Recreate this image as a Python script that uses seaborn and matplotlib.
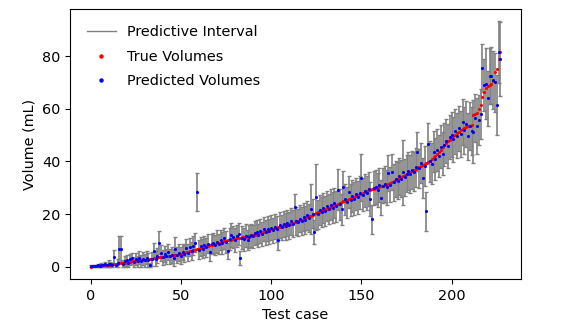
# import libraries
import numpy as np
import pandas as pd
import matplotlib
matplotlib.use("Agg")
import matplotlib.pyplot as plt
import seaborn as sns
from matplotlib.lines import Line2D

# true volumes (sorted)
true_vol = [
    0.0, 0.1, 0.1, 0.2, 0.2, 0.3, 0.4, 0.5, 0.5, 0.6,
    0.7, 0.8, 0.9, 1.0, 1.1, 1.2, 1.3, 1.4, 1.5, 1.6,
    1.7, 1.8, 1.9, 2.0, 2.1, 2.2, 2.3, 2.4, 2.5, 2.6,
    2.7, 2.8, 2.9, 3.0, 3.1, 3.3, 3.4, 3.5, 3.6, 3.7,
    3.8, 3.9, 4.0, 4.1, 4.2, 4.3, 4.4, 4.5, 4.6, 4.7,
    4.9, 5.1, 5.3, 5.5, 5.7, 5.9, 6.1, 6.3, 6.5, 6.7,
    6.9, 7.1, 7.3, 7.5, 7.7, 7.9, 8.1, 8.3, 8.5, 8.7,
    8.9, 9.1, 9.2, 9.4, 9.6, 9.8, 10.0, 10.1, 10.3, 10.5,
    10.6, 10.8, 11.0, 11.1, 11.2, 11.3, 11.4, 11.5, 11.6, 11.7,
    11.9, 12.1, 12.3, 12.5, 12.8, 13.0, 13.2, 13.5, 13.7, 14.0,
    14.2, 14.4, 14.6, 14.8, 15.0, 15.2, 15.4, 15.6, 15.8, 16.0,
    16.2, 16.4, 16.6, 16.8, 17.0, 17.3, 17.6, 17.9, 18.2, 18.5,
    18.8, 19.1, 19.4, 19.7, 20.0, 20.3, 20.6, 20.9, 21.2, 21.5,
    21.8, 22.1, 22.4, 22.7, 23.0, 23.3, 23.6, 23.9, 24.2, 24.5,
    24.8, 25.1, 25.4, 25.7, 26.0, 26.3, 26.6, 26.9, 27.2, 27.5,
    27.8, 28.1, 28.4, 28.7, 29.0, 29.3, 29.5, 29.7, 29.9, 30.1,
    30.3, 30.5, 30.7, 30.9, 31.1, 31.4, 31.7, 32.0, 32.4, 32.8,
    33.2, 33.6, 34.0, 34.4, 34.8, 35.2, 35.6, 36.0, 36.4, 36.8,
    37.2, 37.6, 38.0, 38.4, 38.8, 39.1, 39.4, 39.8, 40.3, 40.9,
    41.5, 42.2, 42.9, 43.7, 44.5, 45.3, 46.1, 46.9, 47.6, 48.3,
    49.0, 49.6, 50.2, 50.8, 51.3, 51.8, 52.3, 52.8, 53.1, 53.4,
    53.6, 53.8, 57.5, 58.0, 58.5, 60.0, 61.5, 64.5, 66.5, 68.0,
    68.8, 69.2, 69.5, 70.5, 74.0, 75.0, 79.0, 81.5,
]

# predicted volumes
pred_vol = [
    0.3, 0.2, 0.4, 0.3, 0.5, 0.4, 0.7, 0.5, 0.9, 0.6,
    1.2, 0.9, 0.8, 3.8, 0.6, 1.5, 6.8, 6.8, 1.2, 2.0,
    2.4, 1.3, 2.8, 3.2, 1.8, 2.9, 2.0, 3.4, 2.2, 3.0,
    2.4, 3.5, 2.6, 0.8, 3.0, 6.0, 3.1, 4.2, 9.1, 5.2,
    3.6, 4.8, 4.0, 5.5, 3.9, 4.6, 3.5, 6.8, 4.4, 5.3,
    4.2, 5.6, 5.0, 7.2, 5.4, 7.6, 6.0, 8.0, 9.2, 28.5,
    6.5, 7.8, 6.8, 8.2, 7.4, 8.8, 5.5, 8.6, 9.0, 8.2,
    9.5, 8.6, 10.2, 9.0, 10.8, 9.4, 6.0, 10.6, 12.0, 11.2,
    10.2, 11.6, 12.4, 3.4, 11.0, 10.4, 11.8, 10.3, 11.4, 12.0,
    11.5, 12.8, 13.3, 11.9, 13.6, 12.4, 14.2, 13.0, 14.5, 13.4,
    14.8, 13.8, 15.2, 14.2, 10.3, 15.8, 14.9, 16.2, 15.3, 16.6,
    15.8, 17.2, 16.4, 22.7, 17.4, 16.8, 18.2, 17.5, 18.9, 17.9,
    19.5, 18.4, 22.0, 20.2, 13.1, 26.5, 20.0, 21.6, 20.8, 22.3,
    21.2, 22.9, 22.0, 23.6, 22.4, 24.2, 23.0, 29.2, 23.8, 21.8,
    30.4, 25.6, 24.4, 28.4, 25.4, 26.8, 25.8, 27.6, 26.4, 28.1,
    33.8, 27.3, 28.8, 28.0, 29.6, 25.7, 18.0, 29.8, 30.4, 29.2,
    31.0, 26.2, 30.8, 31.4, 30.2, 35.7, 31.2, 36.1, 32.0, 33.4,
    32.6, 34.4, 33.5, 35.8, 34.0, 35.4, 36.4, 35.2, 36.8, 36.0,
    37.8, 43.7, 37.4, 39.4, 33.6, 38.2, 21.0, 46.8, 40.0, 39.2,
    43.7, 41.0, 44.2, 42.0, 45.6, 43.0, 46.4, 47.8, 45.8, 49.2,
    50.2, 48.4, 51.4, 49.8, 52.6, 50.4, 55.0, 51.8, 54.2, 49.6,
    53.5, 51.5, 51.3, 56.5, 53.5, 55.8, 58.0, 75.5, 69.0, 69.5,
    64.0, 72.5, 72.5, 71.0, 70.0, 61.5, 81.5, 79.0,
]

# half width of the predictive interval
interval_hw = [
    0.3, 0.2, 0.4, 0.3, 0.5, 0.4, 0.7, 0.5, 0.9, 0.6,
    1.2, 0.9, 0.8, 2.6, 0.6, 1.5, 4.8, 4.8, 1.2, 2.0,
    2.1, 1.3, 2.2, 2.2, 1.8, 2.3, 2.0, 2.4, 2.2, 2.5,
    2.4, 2.6, 2.6, 0.8, 2.7, 3.2, 2.7, 2.8, 4.4, 3.0,
    2.8, 2.9, 2.9, 3.0, 3.0, 3.0, 3.1, 4.4, 3.1, 3.2,
    3.2, 3.2, 3.3, 3.3, 3.3, 3.4, 3.4, 3.5, 3.5, 7.2,
    3.5, 3.6, 3.6, 3.6, 3.7, 3.7, 3.2, 3.8, 3.8, 3.8,
    4.4, 3.9, 3.9, 4.0, 4.0, 4.0, 3.0, 4.1, 4.5, 4.1,
    4.6, 4.2, 4.2, 2.6, 4.3, 4.3, 4.3, 3.8, 4.4, 4.4,
    4.4, 4.5, 4.5, 4.5, 4.6, 4.6, 4.6, 4.7, 4.7, 4.7,
    4.8, 4.8, 4.8, 4.9, 3.8, 4.9, 4.9, 5.0, 5.0, 5.0,
    5.1, 5.1, 5.1, 5.0, 5.2, 5.2, 5.2, 5.3, 5.3, 5.3,
    5.4, 5.4, 9.5, 5.5, 4.6, 12.5, 5.5, 5.6, 5.6, 5.6,
    5.7, 5.7, 5.7, 5.8, 5.8, 5.8, 5.9, 7.8, 5.9, 5.9,
    6.0, 6.0, 6.0, 6.1, 6.1, 6.1, 6.2, 6.2, 6.2, 6.3,
    9.0, 6.3, 6.3, 6.4, 6.4, 6.4, 5.5, 6.5, 6.5, 6.5,
    6.6, 6.6, 6.6, 6.7, 6.7, 6.8, 6.8, 6.9, 6.9, 6.9,
    7.0, 7.0, 7.1, 12.5, 7.1, 7.2, 7.2, 7.3, 7.3, 7.4,
    7.4, 7.5, 7.5, 7.6, 7.6, 7.7, 7.5, 7.8, 7.8, 7.9,
    7.9, 8.0, 8.0, 8.1, 8.1, 8.2, 8.2, 8.3, 8.3, 8.4,
    8.4, 8.5, 8.5, 8.6, 8.6, 8.7, 8.7, 8.8, 8.8, 8.9,
    9.0, 9.0, 12.0, 9.2, 10.5, 9.4, 9.6, 9.2, 10.0, 13.5,
    10.4, 10.6, 10.8, 11.0, 11.2, 11.5, 11.8, 14.0,
]

df = pd.DataFrame({
    "case": np.arange(len(true_vol)),
    "true": true_vol,
    "pred": pred_vol,
    "hw": interval_hw,
})

plt.rcParams["font.size"] = 10.4

fig = plt.figure(figsize=(5.84, 3.29), dpi=100)
ax = fig.add_axes([0.12, 0.152, 0.772, 0.821])

# predictive interval bars
ax.errorbar(df["case"], df["pred"], yerr=df["hw"], fmt="none",
            ecolor="gray", elinewidth=1.2, capsize=1.5, capthick=1.0)

# points
sns.scatterplot(data=df, x="case", y="true", color="red", s=5,
                linewidth=0, ax=ax, zorder=3)
sns.scatterplot(data=df, x="case", y="pred", color="blue", s=5,
                linewidth=0, ax=ax, zorder=4)

ax.set_xlabel("Test case")
ax.set_ylabel("Volume (mL)")

handles = [
    Line2D([], [], color="gray", lw=1.0),
    Line2D([], [], color="red", marker="o", ms=2.2, lw=0),
    Line2D([], [], color="blue", marker="o", ms=2.2, lw=0),
]
ax.legend(handles, ["Predictive Interval", "True Volumes", "Predicted Volumes"],
          loc="upper left", frameon=False, labelspacing=0.72,
          borderaxespad=0.75)

fig.savefig("out.png", dpi=100)
